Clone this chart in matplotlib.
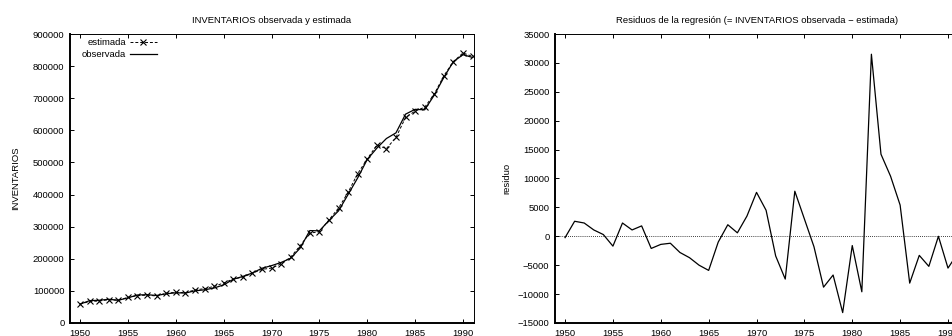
import matplotlib
matplotlib.use("Agg")
import matplotlib.pyplot as plt

plt.rcParams["font.family"] = ["Liberation Sans", "DejaVu Sans"]
plt.rcParams["font.size"] = 6.8

# annual series, 1950-1991
anios = list(range(1950, 1992))
observada = [58800, 69600, 70800, 73800, 70900, 78300, 87300, 88100, 85800, 90900,
             94100, 93300, 100200, 103300, 109000, 118700, 136000, 145000, 155600, 170500,
             178600, 188500, 201600, 233600, 287800, 287000, 319200, 349200, 400300, 451800,
             509400, 544400, 574500, 592200, 650400, 665400, 663900, 709700, 764800, 814000,
             835500, 827000]
estimada = [59000, 67000, 68500, 72700, 70600, 80000, 85000, 87000, 84000, 93000,
            95500, 94500, 103000, 107000, 114000, 124600, 137000, 143000, 155000, 167000,
            171000, 184000, 205000, 241000, 280000, 284000, 321000, 358000, 407000, 465000,
            511000, 554000, 543000, 578000, 640000, 660000, 672000, 713000, 770000, 814000,
            841000, 830000]
residuo = [-230, 2600, 2300, 1100, 300, -1700, 2300, 1100, 1800, -2100,
           -1400, -1200, -2800, -3700, -5000, -5900, -1000, 2000, 600, 3500,
           7600, 4500, -3400, -7400, 7800, 3000, -1800, -8800, -6700, -13200,
           -1600, -9600, 31500, 14200, 10400, 5400, -8100, -3300, -5200, 0,
           -5500, -3000]

fig = plt.figure(figsize=(9.52, 3.36), dpi=100)
ax1 = fig.add_axes([70 / 952, 13 / 336, 404 / 952, 289 / 336])
ax2 = fig.add_axes([555 / 952, 13 / 336, 404 / 952, 289 / 336])


def estilo(ax):
    ax.tick_params(direction="in", length=3, width=0.7, top=True, right=True,
                   pad=4, labelsize=6.8, colors="black")
    ax.tick_params(axis="x", pad=4.5)
    for lado in ("left", "bottom"):
        ax.spines[lado].set_linewidth(1.4)
    for lado in ("top", "right"):
        ax.spines[lado].set_linewidth(0.7)
    ax.set_xlim(1948.95, 1991.15)
    ax.set_xticks(range(1950, 1991, 5))


# left panel: observed vs fitted
estilo(ax1)
ax1.plot(anios, estimada, color="black", lw=0.7, ls=(0, (3, 2)), marker="x",
         ms=3.8, mew=0.8, label="estimada")
ax1.plot(anios, observada, color="black", lw=0.9, label="observada")
ax1.set_ylim(0, 900000)
ax1.set_yticks(range(0, 900001, 100000))
ax1.set_title("INVENTARIOS observada y estimada", fontsize=6.8, pad=8)
ax1.set_ylabel("INVENTARIOS", fontsize=6.8)
ax1.yaxis.set_label_coords(-0.124, 0.5)
leg = ax1.legend(loc="upper left", bbox_to_anchor=(0.03, 0.985), frameon=False,
                 markerfirst=False, handlelength=2.8, handletextpad=0.4,
                 labelspacing=0.3, borderpad=0, borderaxespad=0, fontsize=6.8)
# right-align the key rows so the samples line up
for col in leg._legend_handle_box.get_children():
    col.align = "right"

# right panel: residuals
estilo(ax2)
ax2.axhline(0, color="black", lw=0.6, ls=(0, (1, 1.5)))
ax2.plot(anios, residuo, color="black", lw=0.9)
ax2.set_ylim(-15000, 35000)
ax2.set_yticks(range(-15000, 35001, 5000))
ax2.set_title("Residuos de la regresión (= INVENTARIOS observada \u2212 estimada)",
              fontsize=6.8, pad=8)
ax2.set_ylabel("residuo", fontsize=6.8)
ax2.yaxis.set_label_coords(-0.109, 0.5)

fig.savefig("out.png", dpi=100)
